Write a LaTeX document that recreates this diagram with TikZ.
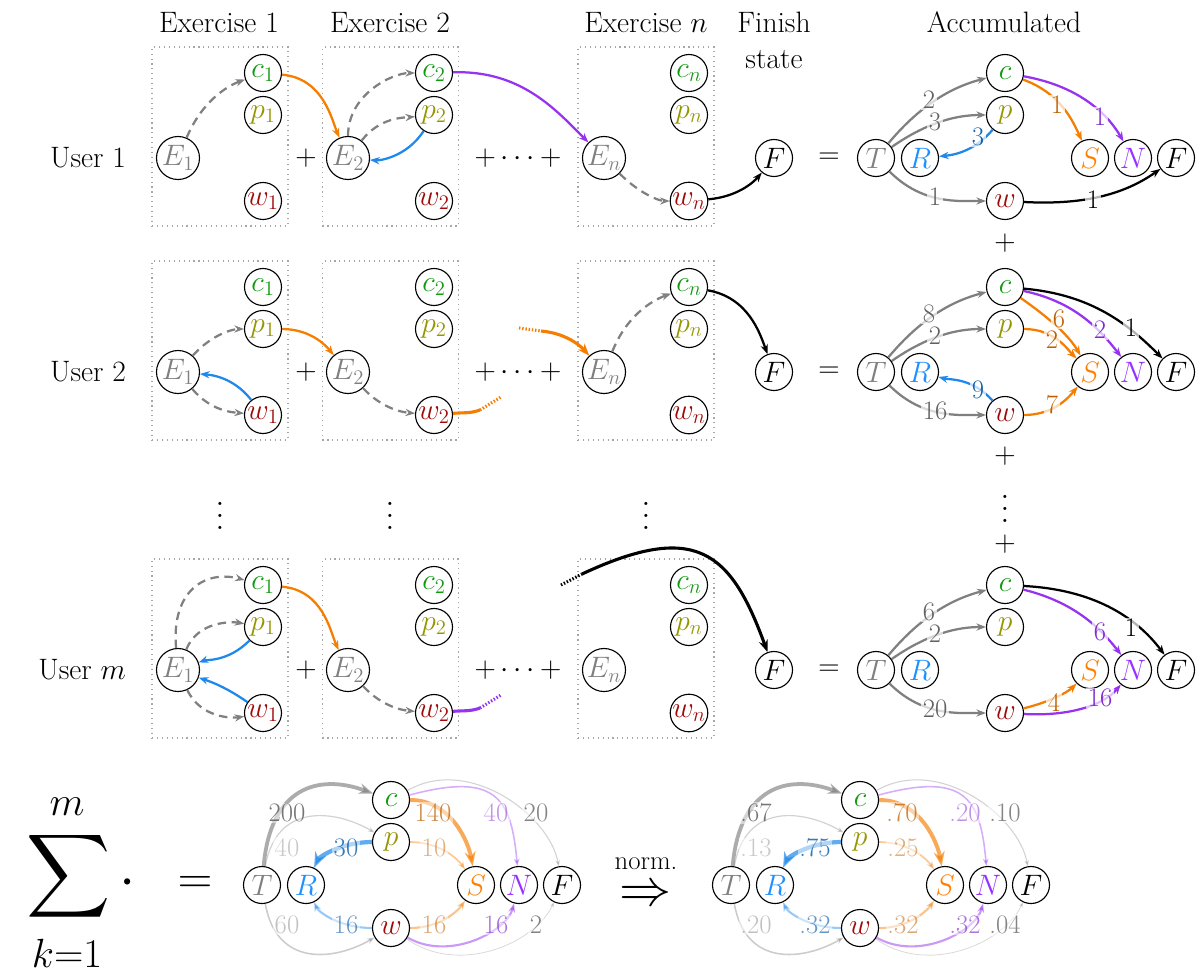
\RequirePackage{fix-cm}
\documentclass[tikz,border=0pt]{standalone}
\usetikzlibrary{arrows.meta}

% node text colours
\definecolor{cgreen}{RGB}{15,155,15}
\definecolor{polive}{RGB}{150,150,0}
\definecolor{wred}{RGB}{160,10,10}
\definecolor{egray}{RGB}{128,128,128}
\definecolor{rblue}{RGB}{30,144,255}
\definecolor{sorange}{RGB}{255,128,0}
\definecolor{npurple}{RGB}{150,50,255}
% edge colours
\definecolor{eorange}{RGB}{245,125,0}
\definecolor{eblue}{RGB}{30,136,235}
\definecolor{epurple}{RGB}{150,50,240}
% edge label colours
\colorlet{glbl}{black!62}
\colorlet{olbl}{eorange!78!black}
\colorlet{plbl}{epurple!85!black}
\colorlet{blbl}{eblue!72!black}

\tikzset{
  every node/.style={font=\fontsize{21}{25}\selectfont},
  st/.style={circle, draw, line width=0.8pt, inner sep=0pt, minimum size=0.925cm},
  est/.style={st, minimum size=1.075cm, text=egray},
  exbox/.style={draw=gray!70, line width=0.8pt, dash pattern=on 0.8pt off 2.7pt,
                minimum width=3.4cm, minimum height=4.475cm, inner sep=0pt},
  arr/.style={line width=1.6pt, -{Stealth[length=2pt 3]}},
  dsh/.style={arr, draw=egray, dash pattern=on 6pt off 4pt},
  stub/.style={line width=2.2pt},
  dotstub/.style={line width=2.2pt, dash pattern=on 1pt off 1.3pt},
  lbl/.style={font=\fontsize{19}{22}\selectfont, fill=white, fill opacity=0.7,
              text opacity=1, inner sep=1pt},
  wedge/.style n args={3}{draw=#1, line width=#2, draw opacity=#3, fill opacity=#3,
                          -{Stealth[length=2pt 3]}},
  wl/.style 2 args={lbl, text=#1, text opacity=#2, fill opacity=0.5},
}

% transition graph T, R, c, p, w, S, N, F with T at the origin
\newcommand\accnodes{%
  \node[st, text=egray]   (T) at (0,0)     {$T$};
  \node[st, text=rblue]   (R) at (44,0)    {$R$};
  \node[st, text=cgreen]  (c) at (129,-85) {$c$};
  \node[st, text=polive]  (p) at (129,-43) {$p$};
  \node[st, text=wred]    (w) at (129,43)  {$w$};
  \node[st, text=sorange] (S) at (214,0)   {$S$};
  \node[st, text=npurple] (N) at (257,0)   {$N$};
  \node[st]               (F) at (300,0)   {$F$};
}

% one user: exercises 1, 2, n, finish state and accumulated graph
\newcommand\userrow[1]{%
  \node[anchor=east] (user) at (131,0) {User #1};
  \node[exbox] (box1) at (220,-21.5) {};
  \node[exbox] (box2) at (390.5,-21.5) {};
  \node[exbox] (boxn) at (646,-21.5) {};
  \node[est] (E1) at (178,0) {$E_1$};
  \node[st, text=cgreen] (c1) at (263,-85) {$c_1$};
  \node[st, text=polive] (p1) at (263,-43) {$p_1$};
  \node[st, text=wred]   (w1) at (263,43)  {$w_1$};
  \node (plus1) at (306,0) {$+$};
  \node[est] (E2) at (348,0) {$E_2$};
  \node[st, text=cgreen] (c2) at (434,-85) {$c_2$};
  \node[st, text=polive] (p2) at (434,-43) {$p_2$};
  \node[st, text=wred]   (w2) at (434,43)  {$w_2$};
  \node (plusn) at (518,0) {$+\cdots+$};
  \node[est] (En) at (604,0) {$E_n$};
  \node[st, text=cgreen] (cn) at (689,-85) {$c_n$};
  \node[st, text=polive] (pn) at (689,-43) {$p_n$};
  \node[st, text=wred]   (wn) at (689,43)  {$w_n$};
  \node[st] (Fin) at (774,0) {$F$};
  \node (eq) at (829,0) {$=$};
  \begin{scope}[shift={(876,0)}]\accnodes\end{scope}
  \draw[arr, draw=egray] (T) to[out=50,in=195] (c) node[lbl, text=glbl] at (929,-58) {\lTc};
  \draw[arr, draw=egray] (T) to[out=35,in=180] (p) node[lbl, text=glbl] at (935,-36) {\lTp};
  \draw[arr, draw=egray] (T) to[out=-45,in=180] (w) node[lbl, text=glbl] at (935,39) {\lTw};
}

% weighted graph of the summed and normalised transitions
\newcommand\sumgraph{%
  \accnodes
  \draw[wedge={egray}{2.7pt}{0.65}] (T) to[out=85,in=160,looseness=1.4] (c)
    node[wl={black!60}{0.9}] at (25,-72) {\lTc};
  \draw[wedge={egray}{0.85pt}{0.35}] (T) to[out=80,in=150,looseness=1.3] (p)
    node[wl={black!60}{0.35}] at (25,-37) {\lTp};
  \draw[wedge={egray}{1.1pt}{0.4}] (T) to[out=-80,in=210,looseness=1.3] (w)
    node[wl={black!60}{0.4}] at (25,40) {\lTw};
  \draw[wedge={eblue}{3pt}{0.7}] (p) to[out=180,in=65] (R)
    node[wl={blbl}{0.85}] at (84,-37) {\lpR};
  \draw[wedge={eblue}{1.5pt}{0.45}] (w) to[out=180,in=-65] (R)
    node[wl={blbl}{0.65}] at (84,40) {\lwR};
  \draw[wedge={eorange}{2.8pt}{0.65}] (c) to[out=0,in=100] (S)
    node[wl={olbl}{0.75}] at (171,-72) {\lcS};
  \draw[wedge={eorange}{1.25pt}{0.4}] (p) to[out=0,in=125] (S)
    node[wl={olbl}{0.5}] at (172,-37) {\lpS};
  \draw[wedge={eorange}{1.5pt}{0.45}] (w) to[out=0,in=235] (S)
    node[wl={olbl}{0.55}] at (172,40) {\lwS};
  \draw[wedge={epurple}{1.1pt}{0.4}] (c) to[out=15,in=95,looseness=1.6] (N)
    node[wl={plbl}{0.5}] at (234,-72) {\lcN};
  \draw[wedge={epurple}{1.5pt}{0.5}] (w) to[out=-30,in=255] (N)
    node[wl={plbl}{0.65}] at (234,40) {\lwN};
  \draw[wedge={egray}{0.75pt}{0.35}] (c) to[out=30,in=100] (F)
    node[wl={black!60}{0.8}] at (274,-72) {\lcF};
  \draw[wedge={egray}{0.55pt}{0.3}] (w) to[out=-35,in=245] (F)
    node[wl={black!60}{0.8}] at (274,40) {\lwF};
}

\newcommand\tallvdots{\scalebox{2.1}{\fontsize{10}{12}\selectfont$\vdots$}}

\begin{document}
\begin{tikzpicture}[x=0.025cm, y=-0.025cm]
\fill[white] (0,0) rectangle (1200,974);
\useasboundingbox (0,0) rectangle (1200,974);

% column headers
\node[anchor=base] (hex1) at (219,32) {Exercise 1};
\node[anchor=base] (hex2) at (390,32) {Exercise 2};
\node[anchor=base] (hexn) at (646,32) {Exercise $n$};
\node[anchor=base] (hfin) at (774,32) {Finish};
\node[anchor=base] (hstate) at (774,68) {state};
\node[anchor=base] (hacc) at (1004,32) {Accumulated};

% ---------- user 1 ----------
\begin{scope}[shift={(0,158)}, name prefix=u1-]
  \def\lTc{2}\def\lTp{3}\def\lTw{1}
  \userrow{1}
  \draw[dsh] (E1) to[out=67,in=200] (c1);
  \draw[arr, draw=eorange] (c1) to[out=-5,in=113] (E2);
  \draw[dsh] (E2) to[out=90,in=180] (c2);
  \draw[dsh] (E2) to[out=52,in=185] (p2);
  \draw[arr, draw=eblue] (p2) to[out=237,in=-5] (E2);
  \draw[arr, draw=epurple] (c2) to[out=2,in=135] (En);
  \draw[dsh] (En) to[out=-45,in=180] (wn);
  \draw[arr] (wn) to[out=5,in=230] (Fin);
  \draw[arr, draw=eblue] (p) to[out=230,in=5] (R) node[lbl, text=blbl] at (978,-21) {3};
  \draw[arr, draw=eorange] (c) to[out=-20,in=115] (S) node[lbl, text=olbl] at (1057,-53) {1};
  \draw[arr, draw=epurple] (c) to[out=-10,in=120] (N) node[lbl, text=plbl] at (1100,-41) {1};
  \draw[arr] (w) to[out=-3,in=215] (F) node[lbl] at (1093,42) {1};
\end{scope}

\node (accplus1) at (1005,243) {$+$};

% ---------- user 2 ----------
\begin{scope}[shift={(0,372)}, name prefix=u2-]
  \def\lTc{8}\def\lTp{2}\def\lTw{16}
  \userrow{2}
  \draw[dsh] (E1) to[out=48,in=180] (p1);
  \draw[dsh] (E1) to[out=-50,in=175] (w1);
  \draw[arr, draw=eblue] (w1) to[out=128,in=-5] (E1);
  \draw[arr, draw=eorange] (p1) to[out=0,in=130] (E2);
  \draw[dsh] (E2) to[out=-47,in=175] (w2);
  \coordinate (o1) at (480,38);
  \coordinate (o2) at (501,25);
  \draw[stub, draw=eorange] (w2) to[out=5,in=200] (o1);
  \draw[dotstub, draw=eorange] (o1) -- (o2);
  \coordinate (o3) at (519,-44);
  \coordinate (o4) at (541,-41);
  \draw[dotstub, draw=eorange] (o3) -- (o4);
  \draw[stub, draw=eorange, -{Stealth[length=2pt 3]}] (o4) to[out=-5,in=132] (En);
  \draw[dsh] (En) to[out=68,in=200] (cn);
  \draw[arr] (cn) to[out=-10,in=110] (Fin);
  \draw[arr, draw=eblue] (w) to[out=131,in=-15] (R) node[lbl, text=blbl] at (978,18) {9};
  \draw[arr, draw=eorange] (c) to[out=-35,in=120] (S) node[lbl, text=olbl] at (1059,-53) {6};
  \draw[arr, draw=eorange] (p) to[out=0,in=135] (S) node[lbl, text=olbl] at (1052,-32) {2};
  \draw[arr, draw=epurple] (c) to[out=-12,in=128] (N) node[lbl, text=plbl] at (1100,-42) {2};
  \draw[arr] (c) to[out=-5,in=135] (F) node[lbl] at (1131,-44) {1};
  \draw[arr, draw=eorange] (w) to[out=0,in=230] (S) node[lbl, text=olbl] at (1052,33) {7};
\end{scope}

\node (accplus2) at (1005,456) {$+$};
\node (accvdots) at (1005,500) {\tallvdots};
\node (accplus3) at (1005,544) {$+$};
\node (vd1) at (220,507) {\tallvdots};
\node (vd2) at (390,507) {\tallvdots};
\node (vdn) at (646,507) {\tallvdots};

% ---------- user m ----------
\begin{scope}[shift={(0,670)}, name prefix=um-]
  \def\lTc{6}\def\lTp{2}\def\lTw{20}
  \userrow{$m$}
  \draw[dsh] (E1) to[out=95,in=165,looseness=1.4] (c1);
  \draw[dsh] (E1) to[out=68,in=170] (p1);
  \draw[arr, draw=eblue] (p1) to[out=225,in=20] (E1);
  \draw[arr, draw=eblue] (w1) to[out=145,in=-20] (E1);
  \draw[dsh] (E1) to[out=-65,in=190] (w1);
  \draw[arr, draw=eorange] (c1) to[out=-5,in=115] (E2);
  \draw[dsh] (E2) to[out=-47,in=175] (w2);
  \coordinate (q1) at (480,38);
  \coordinate (q2) at (501,25);
  \draw[stub, draw=epurple] (w2) to[out=5,in=200] (q1);
  \draw[dotstub, draw=epurple] (q1) -- (q2);
  \coordinate (k1) at (561,-85);
  \coordinate (k2) at (582,-96);
  \draw[dotstub] (k1) -- (k2);
  \draw[stub, -{Stealth[length=2pt 3]}] (k2) to[out=25,in=110,looseness=1.5] (Fin);
  \draw[arr, draw=epurple] (c) to[out=-14,in=128] (N) node[lbl, text=plbl] at (1100,-38) {6};
  \draw[arr] (c) to[out=-3,in=127] (F) node[lbl] at (1131,-42) {1};
  \draw[arr, draw=eorange] (w) to[out=14,in=225] (S) node[lbl, text=olbl] at (1054,33) {4};
  \draw[arr, draw=epurple] (w) to[out=-3,in=230] (N) node[lbl, text=plbl] at (1100,28) {16};
\end{scope}

% ---------- sum over users ----------
\node (sigma) at (69,876) {\scalebox{4.15}{\fontsize{10}{12}\selectfont$\displaystyle\sum$}};
\node (sigtop) at (67,807) {\fontsize{29}{32}\selectfont$m$};
\node (sigbot) at (67,953) {\fontsize{29}{32}\selectfont$k{=}1$};
\node (sigdot) at (128,884) {\fontsize{41.5}{45}\selectfont$\cdot$};
\node (sumeq) at (195,885) {\fontsize{34}{38}\selectfont$=$};

\begin{scope}[shift={(262,885)}, name prefix=sum-]
  \def\lTc{200}\def\lTp{40}\def\lTw{60}\def\lpR{30}\def\lwR{16}\def\lcS{140}
  \def\lpS{10}\def\lwS{16}\def\lcN{40}\def\lwN{16}\def\lcF{20}\def\lwF{2}
  \sumgraph
\end{scope}

\node (normlbl) at (646,864) {\fontsize{19}{22}\selectfont norm.};
\node (normarr) at (646,896) {\fontsize{37}{40}\selectfont$\Rightarrow$};

\begin{scope}[shift={(731,885)}, name prefix=nrm-]
  \def\lTc{.67}\def\lTp{.13}\def\lTw{.20}\def\lpR{.75}\def\lwR{.32}\def\lcS{.70}
  \def\lpS{.25}\def\lwS{.32}\def\lcN{.20}\def\lwN{.32}\def\lcF{.10}\def\lwF{.04}
  \sumgraph
\end{scope}
\end{tikzpicture}
\end{document}
